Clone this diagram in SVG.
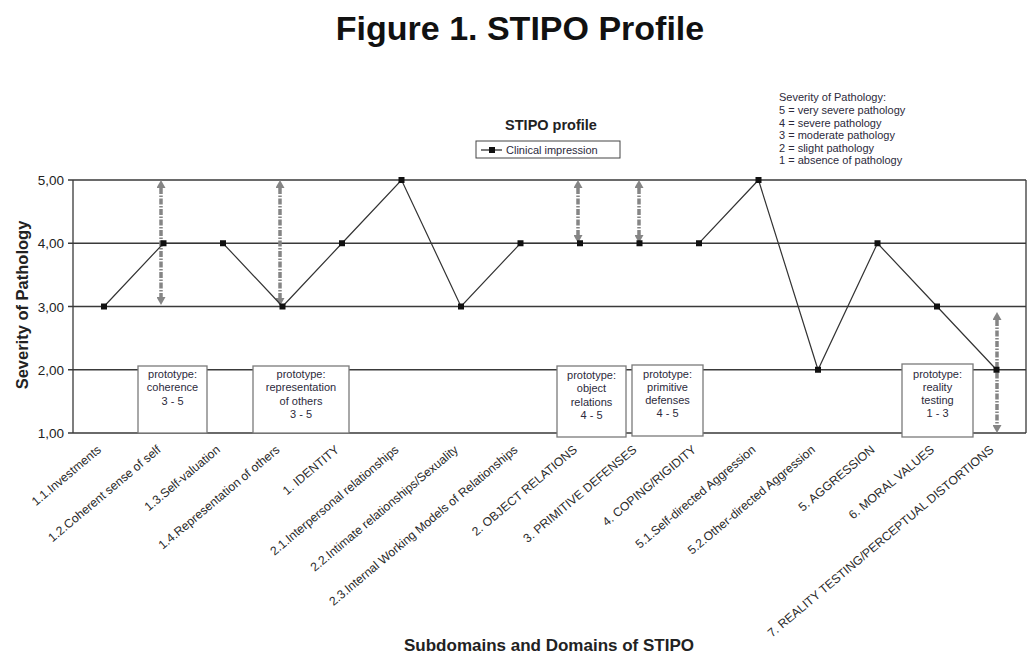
<svg xmlns="http://www.w3.org/2000/svg" width="1027" height="653" viewBox="0 0 1027 653">
  <style>
    text { font-family: "Liberation Sans", Arial, sans-serif; fill: #222; }
    .title { font-size: 34px; font-weight: bold; fill: #111; }
    .subtitle { font-size: 14.5px; font-weight: bold; }
    .axis-title { font-size: 16.5px; font-weight: bold; }
    .tick { font-size: 13.5px; text-anchor: end; }
    .small { font-size: 11px; fill: #2c2a3c; }
    .proto { font-size: 11px; fill: #2c2a3c; text-anchor: middle; }
    .cat { font-size: 12.2px; text-anchor: end; fill: #2a2a2a; }
    .grid { stroke: #3a3a3a; stroke-width: 1.3; fill: none; }
    .box { fill: #fff; stroke: #7a7a7a; stroke-width: 1.3; }
    .range { stroke: #858585; stroke-width: 3.5; fill: none; stroke-dasharray: 6 1.5 1.5 1.5; marker-start: url(#ah); marker-end: url(#ah); }
    .series { stroke: #333; stroke-width: 1.2; fill: none; }
    .pt { fill: #111; }
  </style>
  <defs>
    <marker id="ah" viewBox="0 0 8 9" refX="0" refY="4.5" markerWidth="8" markerHeight="9" markerUnits="userSpaceOnUse" orient="auto-start-reverse">
      <path d="M0,0 L8,4.5 L0,9 z" fill="#858585"/>
    </marker>
    <rect id="sq" x="-3" y="-3" width="6" height="6" class="pt"/>
  </defs>

  <rect width="1027" height="653" fill="#fff"/>

  <!-- headings -->
  <text class="title" x="520" y="39.5" text-anchor="middle">Figure 1. STIPO Profile</text>
  <text class="subtitle" x="551" y="129.5" text-anchor="middle">STIPO profile</text>

  <!-- series legend -->
  <g id="legend">
    <rect x="476" y="141" width="144" height="17" fill="#fff" stroke="#444" stroke-width="1"/>
    <line x1="481" y1="150" x2="502" y2="150" stroke="#222" stroke-width="1.2"/>
    <use href="#sq" x="492" y="150"/>
    <text class="small" x="506" y="154">Clinical impression</text>
  </g>

  <!-- severity key -->
  <g id="severity-key">
    <text class="small" x="779" y="101">Severity of Pathology:</text>
    <text class="small" x="779" y="114">5 = very severe pathology</text>
    <text class="small" x="779" y="126.5">4 = severe pathology</text>
    <text class="small" x="779" y="139">3 = moderate pathology</text>
    <text class="small" x="779" y="151.5">2 = slight pathology</text>
    <text class="small" x="779" y="164">1 = absence of pathology</text>
  </g>

  <!-- plot frame and grid -->
  <g id="grid">
    <path class="grid" d="M68,180H1026 M68,243.25H1026 M68,306.5H1026 M68,369.75H1026 M68,433H1026 M73,180V433 M1026,180V433"/>
  </g>

  <!-- value axis -->
  <g id="y-axis">
    <text class="tick" x="64" y="185">5,00</text>
    <text class="tick" x="64" y="248">4,00</text>
    <text class="tick" x="64" y="311.5">3,00</text>
    <text class="tick" x="64" y="374.5">2,00</text>
    <text class="tick" x="64" y="438">1,00</text>
    <text class="axis-title" transform="translate(28,305) rotate(-90)" text-anchor="middle">Severity of Pathology</text>
  </g>

  <!-- prototype ranges -->
  <g id="connectors">
    <line class="range" x1="161" y1="188" x2="161" y2="297"/>
    <line class="range" x1="280" y1="188" x2="280" y2="298"/>
    <line class="range" x1="578" y1="188" x2="578" y2="235"/>
    <line class="range" x1="639" y1="188" x2="639" y2="235"/>
    <line class="range" x1="997" y1="320" x2="997" y2="425"/>
  </g>

  <!-- prototype boxes -->
  <g id="proto-coherence">
    <rect class="box" x="138" y="366" width="69" height="67"/>
    <text class="proto" x="172.5" y="378">prototype:</text>
    <text class="proto" x="172.5" y="391">coherence</text>
    <text class="proto" x="172.5" y="404.5">3 - 5</text>
  </g>
  <g id="proto-representation">
    <rect class="box" x="253" y="366" width="96" height="67"/>
    <text class="proto" x="301" y="378">prototype:</text>
    <text class="proto" x="301" y="391">representation</text>
    <text class="proto" x="301" y="404.5">of others</text>
    <text class="proto" x="301" y="417.5">3 - 5</text>
  </g>
  <g id="proto-object-relations">
    <rect class="box" x="557" y="366" width="69" height="71"/>
    <text class="proto" x="591.5" y="379">prototype:</text>
    <text class="proto" x="591.5" y="392">object</text>
    <text class="proto" x="591.5" y="405.5">relations</text>
    <text class="proto" x="591.5" y="419">4 - 5</text>
  </g>
  <g id="proto-primitive-defenses">
    <rect class="box" x="632" y="365" width="71" height="71"/>
    <text class="proto" x="667.5" y="378">prototype:</text>
    <text class="proto" x="667.5" y="391">primitive</text>
    <text class="proto" x="667.5" y="404">defenses</text>
    <text class="proto" x="667.5" y="417">4 - 5</text>
  </g>
  <g id="proto-reality-testing">
    <rect class="box" x="902" y="364" width="71" height="73"/>
    <text class="proto" x="937.5" y="378">prototype:</text>
    <text class="proto" x="937.5" y="390.5">reality</text>
    <text class="proto" x="937.5" y="403.5">testing</text>
    <text class="proto" x="937.5" y="417">1 - 3</text>
  </g>

  <!-- clinical impression series -->
  <g id="series">
    <polyline class="series" points="104,306.5 163.5,243.25 223,243.25 282.5,306.5 342,243.25 401.5,180 461,306.5 520.5,243.25 580,243.25 639.5,243.25 699,243.25 758.5,180 818,369.75 877.5,243.25 937,306.5 996.5,369.75"/>
    <use href="#sq" x="104" y="306.5"/>
    <use href="#sq" x="163.5" y="243.25"/>
    <use href="#sq" x="223" y="243.25"/>
    <use href="#sq" x="282.5" y="306.5"/>
    <use href="#sq" x="342" y="243.25"/>
    <use href="#sq" x="401.5" y="180"/>
    <use href="#sq" x="461" y="306.5"/>
    <use href="#sq" x="520.5" y="243.25"/>
    <use href="#sq" x="580" y="243.25"/>
    <use href="#sq" x="639.5" y="243.25"/>
    <use href="#sq" x="699" y="243.25"/>
    <use href="#sq" x="758.5" y="180"/>
    <use href="#sq" x="818" y="369.75"/>
    <use href="#sq" x="877.5" y="243.25"/>
    <use href="#sq" x="937" y="306.5"/>
    <use href="#sq" x="996.5" y="369.75"/>
  </g>

  <!-- category labels -->
  <g id="x-axis">
    <text class="cat" transform="translate(102,451) rotate(-40)">1.1.Investments</text>
    <text class="cat" transform="translate(161.5,451) rotate(-40)">1.2.Coherent sense of self</text>
    <text class="cat" transform="translate(221,451) rotate(-40)">1.3.Self-valuation</text>
    <text class="cat" transform="translate(280.5,451) rotate(-40)">1.4.Representation of others</text>
    <text class="cat" transform="translate(340,451) rotate(-40)">1. IDENTITY</text>
    <text class="cat" transform="translate(399.5,451) rotate(-40)">2.1.Interpersonal relationships</text>
    <text class="cat" transform="translate(459,451) rotate(-40)">2.2.Intimate relationships/Sexuality</text>
    <text class="cat" transform="translate(518.5,451) rotate(-40)">2.3.Internal Working Models of Relationships</text>
    <text class="cat" transform="translate(578,451) rotate(-40)">2. OBJECT RELATIONS</text>
    <text class="cat" transform="translate(637.5,451) rotate(-40)">3. PRIMITIVE DEFENSES</text>
    <text class="cat" transform="translate(697,451) rotate(-40)">4. COPING/RIGIDITY</text>
    <text class="cat" transform="translate(756.5,451) rotate(-40)">5.1.Self-directed Aggression</text>
    <text class="cat" transform="translate(816,451) rotate(-40)">5.2.Other-directed Aggression</text>
    <text class="cat" transform="translate(875.5,451) rotate(-40)">5. AGGRESSION</text>
    <text class="cat" transform="translate(935,451) rotate(-40)">6. MORAL VALUES</text>
    <text class="cat" transform="translate(994.5,451) rotate(-40)">7. REALITY TESTING/PERCEPTUAL DISTORTIONS</text>
    <text class="axis-title" x="549" y="651" text-anchor="middle" style="font-size:17px">Subdomains and Domains of STIPO</text>
  </g>
</svg>
